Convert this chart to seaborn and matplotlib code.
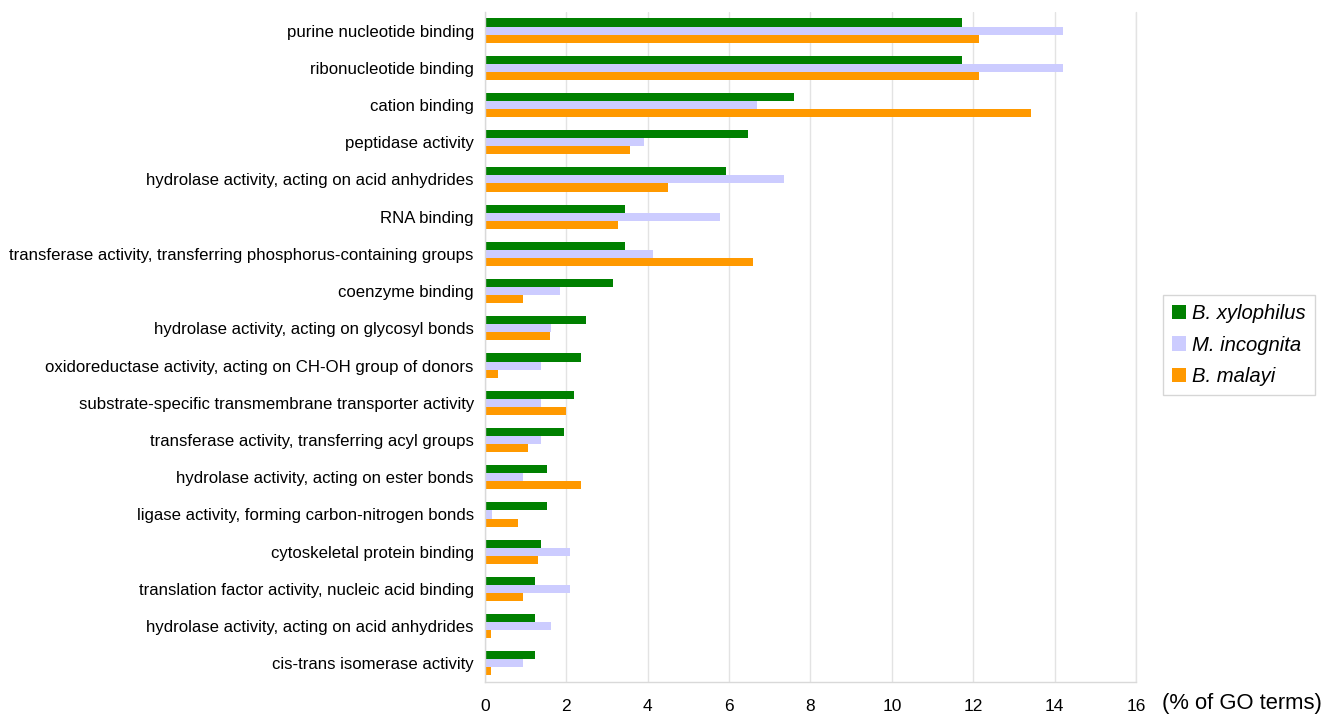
import matplotlib
matplotlib.use("Agg")
import matplotlib.pyplot as plt
import seaborn as sns
import pandas as pd
import numpy as np
from matplotlib.patches import Patch

categories = [
    "purine nucleotide binding",
    "ribonucleotide binding",
    "cation binding",
    "peptidase activity",
    "hydrolase activity, acting on acid anhydrides",
    "RNA binding",
    "transferase activity, transferring phosphorus-containing groups",
    "coenzyme binding",
    "hydrolase activity, acting on glycosyl bonds",
    "oxidoreductase activity, acting on CH-OH group of donors",
    "substrate-specific transmembrane transporter activity",
    "transferase activity, transferring acyl groups",
    "hydrolase activity, acting on ester bonds",
    "ligase activity, forming carbon-nitrogen bonds",
    "cytoskeletal protein binding",
    "translation factor activity, nucleic acid binding",
    "hydrolase activity, acting on acid anhydrides ",
    "cis-trans isomerase activity",
]
b_xylophilus = [11.73, 11.73, 7.59, 6.47, 5.92, 3.44, 3.44, 3.15, 2.48, 2.35,
                2.20, 1.94, 1.53, 1.53, 1.37, 1.24, 1.24, 1.24]
m_incognita = [14.2, 14.2, 6.68, 3.92, 7.36, 5.77, 4.14, 1.85, 1.62, 1.37,
               1.37, 1.37, 0.93, 0.18, 2.08, 2.08, 1.62, 0.93]
b_malayi = [12.14, 12.14, 13.43, 3.57, 4.49, 3.28, 6.59, 0.93, 1.60, 0.32,
            1.98, 1.05, 2.35, 0.80, 1.30, 0.93, 0.16, 0.16]
species = ["B. xylophilus", "M. incognita", "B. malayi"]
colors = ["#008000", "#CCCCFF", "#FF9900"]
xticks = [0, 2, 4, 6, 8, 10, 12, 14, 16]

rows = []
for sp, vals in zip(species, [b_xylophilus, m_incognita, b_malayi]):
    for c, v in zip(categories, vals):
        rows.append({"category": c, "species": sp, "value": v})
df = pd.DataFrame(rows)

sns.set_theme(style="white")
plt.rcParams["font.family"] = ["Liberation Sans", "DejaVu Sans"]
plt.rcParams["text.color"] = "black"
plt.rcParams["xtick.color"] = "black"
plt.rcParams["ytick.color"] = "black"

fig = plt.figure(figsize=(13.36, 7.16), dpi=100)
ax = fig.add_axes([0.3630, 0.0475, 0.4873, 0.9358])

sns.barplot(data=df, y="category", x="value", hue="species", order=categories,
            hue_order=species, palette=colors, orient="h", width=0.65,
            saturation=1, ax=ax, legend=False, edgecolor="none", linewidth=0)

ax.set_xlim(0, 16)
ax.set_ylim(len(categories) - 0.5, -0.5)
ax.set_xticks(xticks)
ax.set_xticklabels([str(t) for t in xticks], fontsize=12.5, color="black")
ax.set_yticks(range(len(categories)))
ax.set_yticklabels([c.strip() for c in categories], fontsize=12.1, color="black")
ax.set_xlabel("")
ax.set_ylabel("")
ax.tick_params(axis="y", which="major", length=0, pad=8)
ax.tick_params(axis="x", which="major", length=0, pad=12)
ax.set_yticks(np.arange(-0.5, len(categories), 1.0), minor=True)
ax.tick_params(axis="y", which="minor", direction="in", length=4, color="#dddddd", width=0.8)
ax.xaxis.grid(True, color="#e3e3e3", linewidth=1)
ax.set_axisbelow(True)
for s in ["top", "right"]:
    ax.spines[s].set_visible(False)
for s in ["left", "bottom"]:
    ax.spines[s].set_color("#d9d9d9")
    ax.spines[s].set_linewidth(1)
ax.axvline(16, color="#e3e3e3", linewidth=1, zorder=0, clip_on=False)

fig.text(0.870, 0.017, "(% of GO terms)", fontsize=15.8, va="center", ha="left", color="black")

handles = [Patch(facecolor=c, edgecolor="none") for c in colors]
leg = fig.legend(handles, species, loc="center left", bbox_to_anchor=(0.8705, 0.518),
                 frameon=True, fancybox=False,
                 prop={"style": "italic", "size": 14.6},
                 handlelength=0.7, handleheight=0.7, handletextpad=0.3,
                 labelspacing=0.62, borderpad=0.45, borderaxespad=0)
for t in leg.get_texts():
    t.set_color("black")
leg.get_frame().set_edgecolor("#cccccc")
leg.get_frame().set_linewidth(1)

fig.savefig("out.png", dpi=100, facecolor="white")
